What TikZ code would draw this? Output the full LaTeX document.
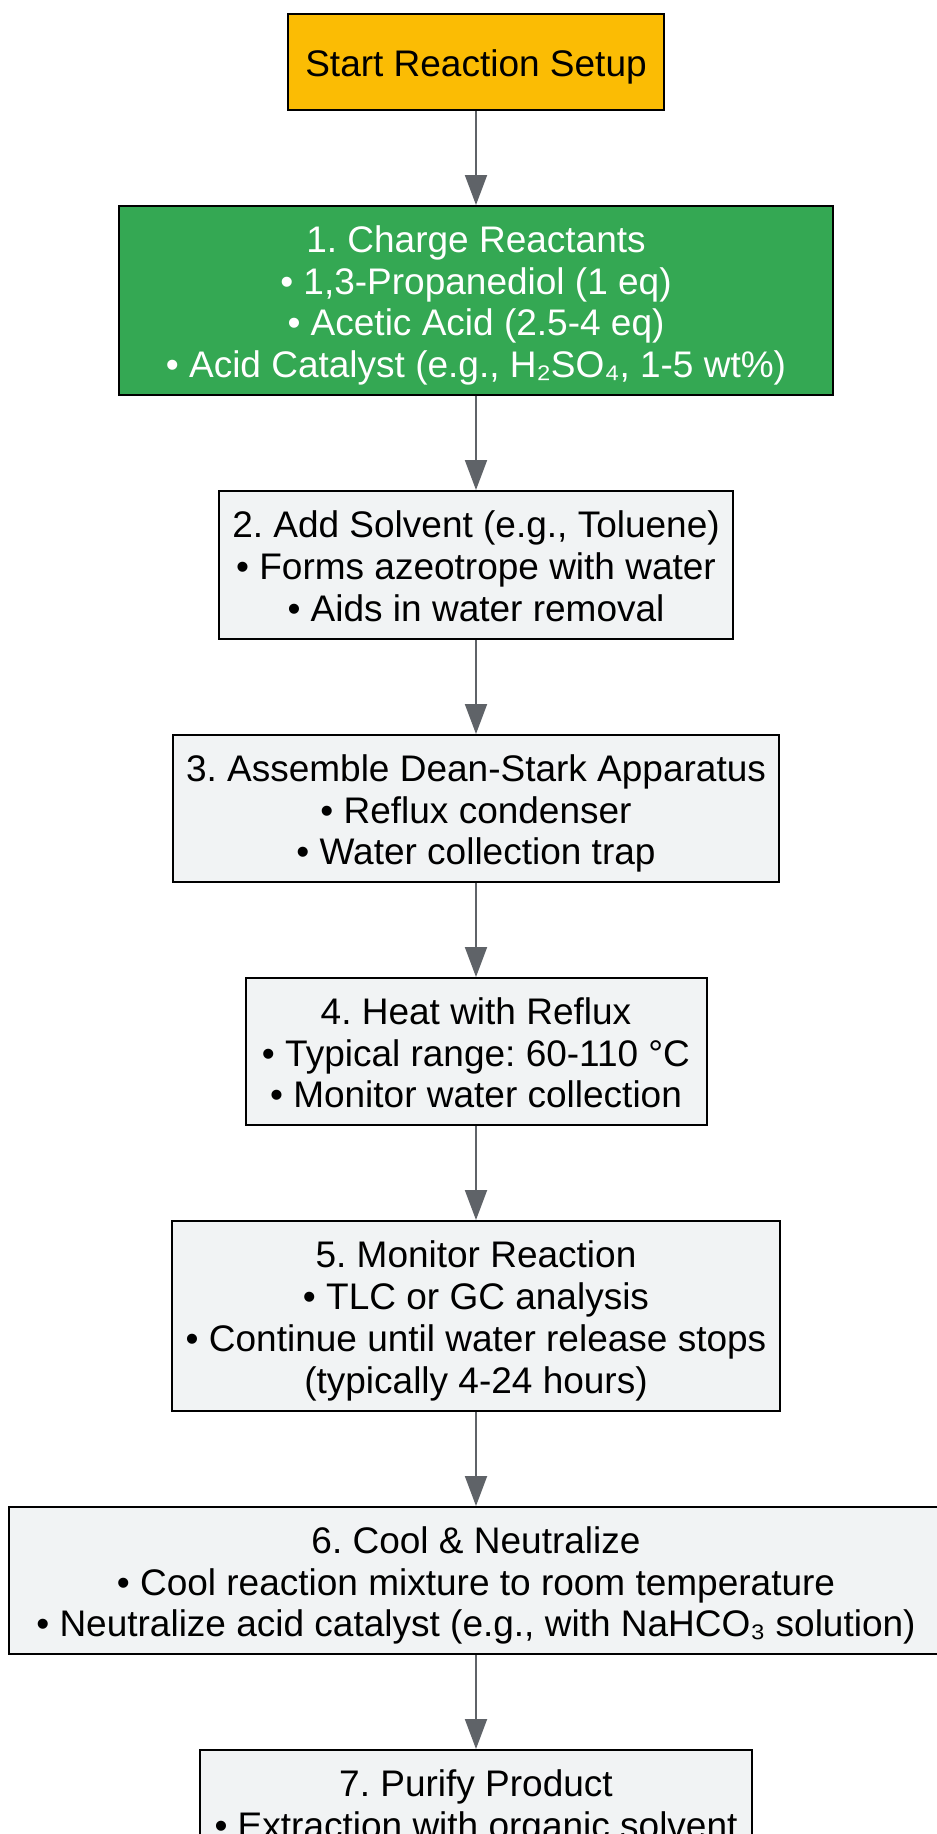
\documentclass[tikz,border=0pt]{standalone}
\usepackage{fontspec}
\setmainfont{Liberation Sans}
\usetikzlibrary{arrows.meta}
\definecolor{startc}{HTML}{FBBC04}
\definecolor{greenc}{HTML}{34A853}
\definecolor{boxc}{HTML}{F1F3F4}
\definecolor{arrc}{HTML}{5F6368}
\frenchspacing
% #1 = number of lines the box is sized for, #2 = lines
\newcommand\boxlines[2]{\raisebox{\dimexpr 20.9pt*#1-35.4pt\relax}[0pt][0pt]{\begin{tabular}[t]{@{}c@{}}#2\end{tabular}}}
\begin{document}
\begin{tikzpicture}[x=1pt,y=-1pt,
  box/.style={draw=black, line width=2pt, fill=boxc, inner sep=0pt,
    font=\fontsize{37}{41.8}\selectfont\frenchspacing, text=black},
  arr/.style={draw=arrc, line width=2pt, -{Triangle[length=30pt,width=22pt]}}]
\useasboundingbox (0,0) rectangle (937,1834);
\node[box, fill=startc, minimum width=376pt, minimum height=96pt] (s) at (476,62)
  {\boxlines{1}{Start Reaction Setup}};
\node[box, fill=greenc, text=white, minimum width=714pt, minimum height=189pt] (b1) at (476,300.5)
  {\boxlines{4}{1. Charge Reactants\\• 1,3-Propanediol (1 eq)\\• Acetic Acid (2.5-4 eq)\\• Acid Catalyst (e.g., H₂SO₄, 1-5 wt\%)}};
\node[box, minimum width=514pt, minimum height=148pt] (b2) at (476,565)
  {\boxlines{3}{2. Add Solvent (e.g., Toluene)\\• Forms azeotrope with water\\• Aids in water removal}};
\node[box, minimum width=606pt, minimum height=147pt] (b3) at (476,808.5)
  {\boxlines{3}{3. Assemble Dean-Stark Apparatus\\• Reflux condenser\\• Water collection trap}};
\node[box, minimum width=461pt, minimum height=147pt] (b4) at (476,1051.5)
  {\boxlines{3}{4. Heat with Reflux\\• Typical range: 60-110 °C\\• Monitor water collection}};
\node[box, minimum width=608pt, minimum height=190pt] (b5) at (476,1316)
  {\boxlines{4}{5. Monitor Reaction\\• TLC or GC analysis\\• Continue until water release stops\\(typically 4-24 hours)}};
\node[box, minimum width=934pt, minimum height=147pt] (b6) at (476,1580.5)
  {\boxlines{3}{6. Cool \& Neutralize\\• Cool reaction mixture to room temperature\\• Neutralize acid catalyst (e.g., with NaHCO₃ solution)}};
\node[box, minimum width=552pt, minimum height=190pt] (b7) at (476,1845)
  {\boxlines{4}{7. Purify Product\\• Extraction with organic solvent}};
\draw[arr] (s) -- (b1);
\draw[arr] (b1) -- (b2);
\draw[arr] (b2) -- (b3);
\draw[arr] (b3) -- (b4);
\draw[arr] (b4) -- (b5);
\draw[arr] (b5) -- (b6);
\draw[arr] (b6) -- (b7);
\end{tikzpicture}
\end{document}
